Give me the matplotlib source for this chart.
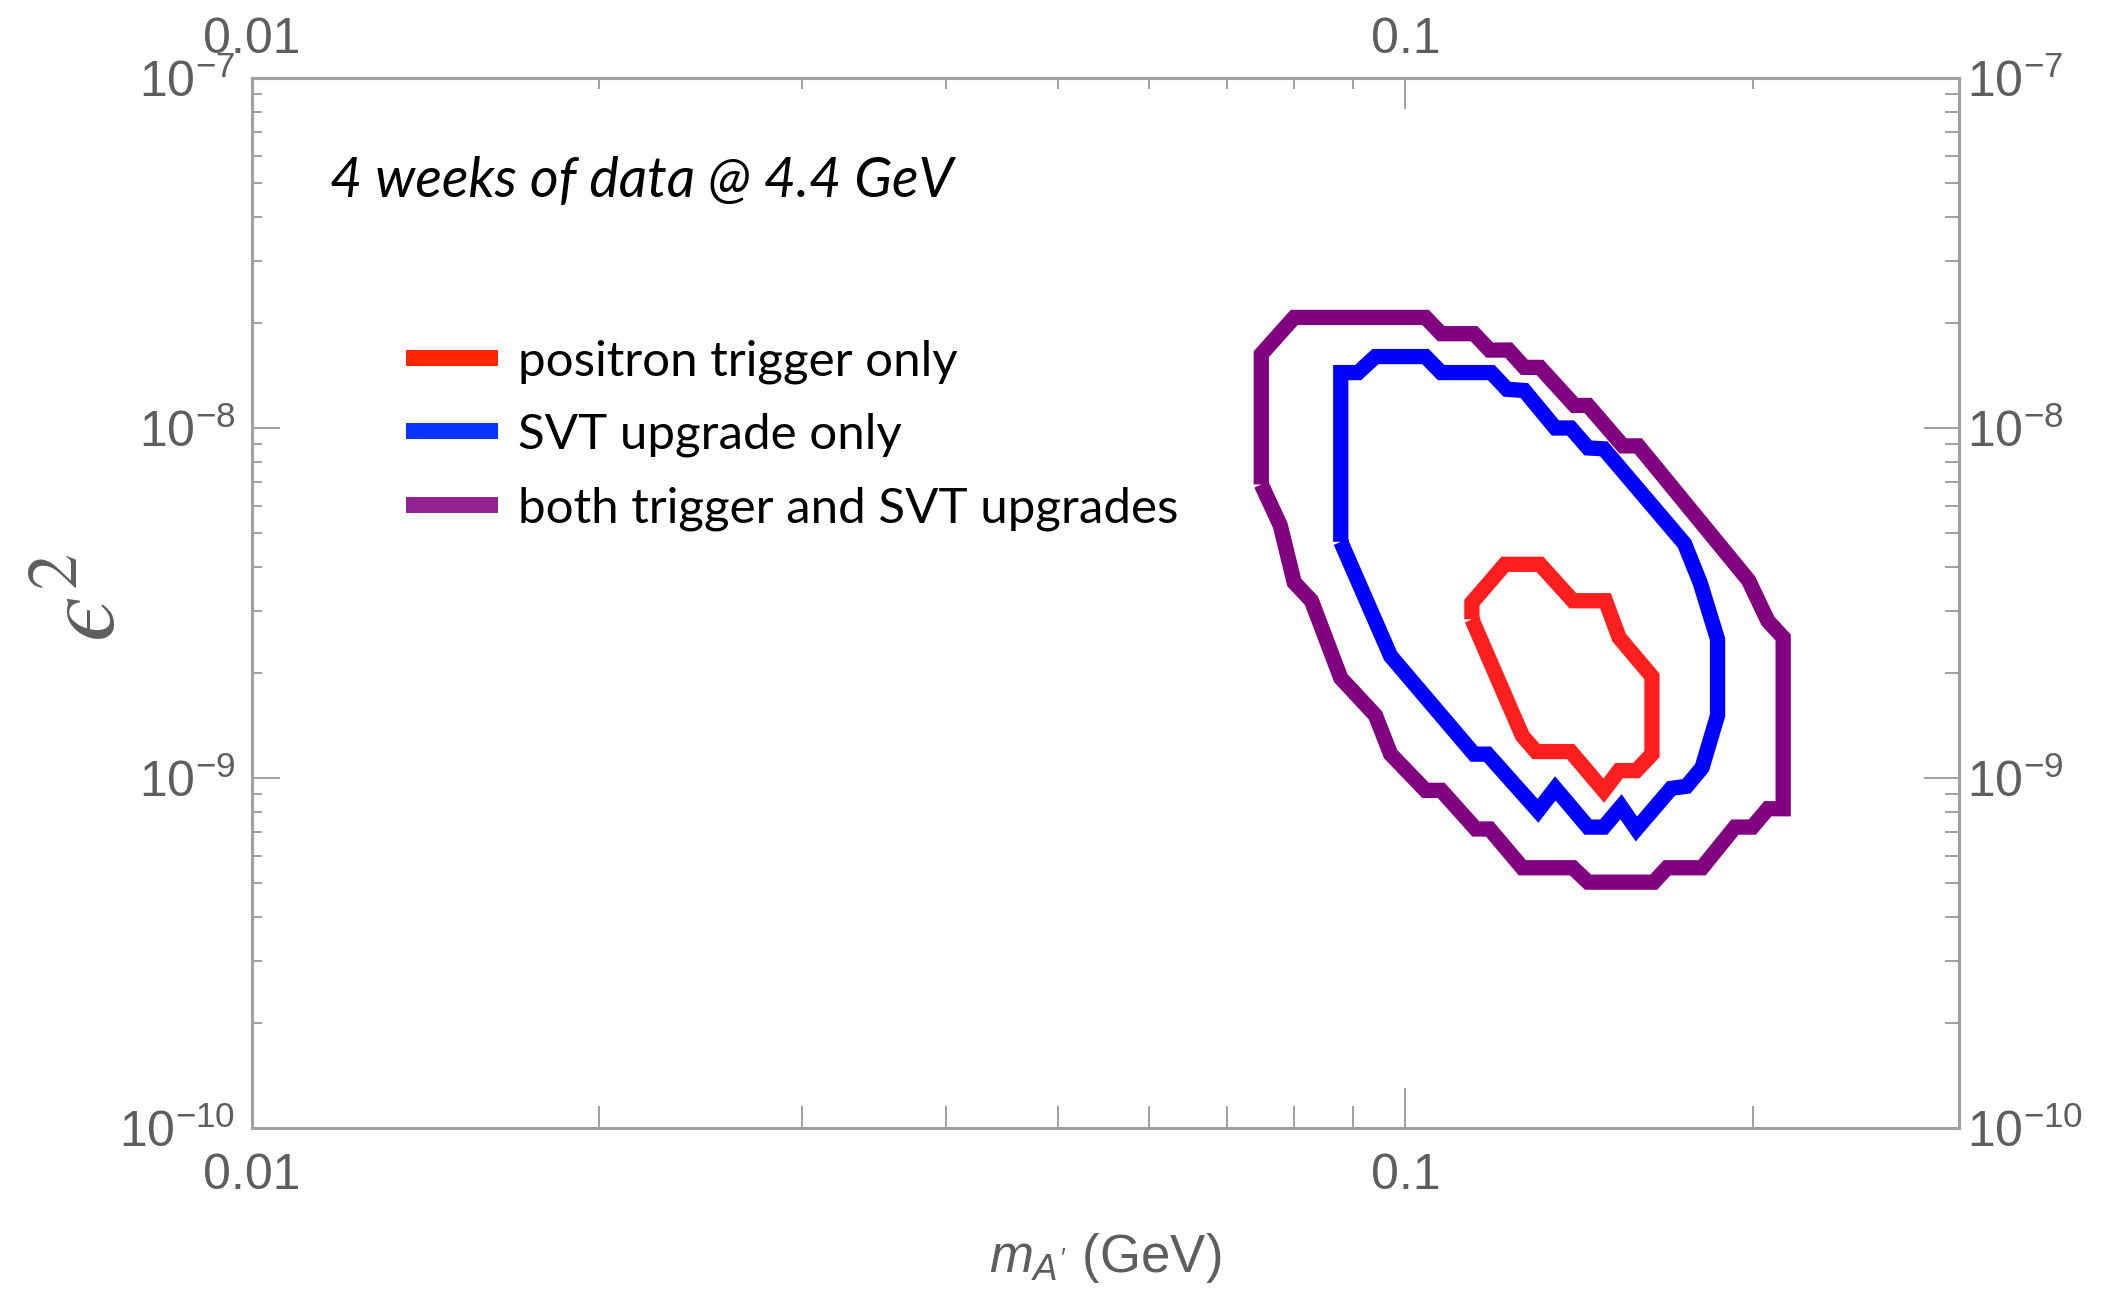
import numpy as np
import matplotlib
matplotlib.use("Agg")
from matplotlib import pyplot as plt
from matplotlib.lines import Line2D
from matplotlib.ticker import FixedLocator, FixedFormatter, LogFormatterMathtext, LogLocator, NullFormatter

# reach contours: A' mass (GeV) and epsilon^2
red_mass = [0.1142, 0.1142, 0.1220, 0.1308, 0.1397, 0.1491, 0.1532, 0.1636,
            0.1636, 0.1586, 0.1532, 0.1486, 0.1391, 0.1298, 0.1263]
red_eps2 = [2.84e-9, 3.17e-9, 4.08e-9, 4.08e-9, 3.21e-9, 3.21e-9, 2.52e-9, 1.95e-9,
            1.17e-9, 1.05e-9, 1.05e-9, 9.2e-10, 1.19e-9, 1.19e-9, 1.32e-9]

blue_mass = [0.0879, 0.0879, 0.0910, 0.0942, 0.1041, 0.1074, 0.1187, 0.1225,
             0.1268, 0.1349, 0.1391, 0.1440, 0.1486, 0.1746, 0.1801, 0.1865,
             0.1865, 0.1808, 0.1753, 0.1700, 0.1586, 0.1538, 0.1486, 0.1440,
             0.1349, 0.1303, 0.1178, 0.1147, 0.0971]
blue_eps2 = [4.73e-9, 1.44e-8, 1.44e-8, 1.60e-8, 1.60e-8, 1.44e-8, 1.44e-8, 1.29e-8,
             1.28e-8, 1.00e-8, 1.00e-8, 8.77e-9, 8.72e-9, 4.67e-9, 3.62e-9, 2.49e-9,
             1.51e-9, 1.07e-9, 9.47e-10, 9.34e-10, 7.15e-10, 8.28e-10, 7.24e-10, 7.24e-10,
             9.34e-10, 8.06e-10, 1.17e-9, 1.17e-9, 2.23e-9]

purple_mass = [0.0750, 0.0750, 0.0801, 0.1041, 0.1074, 0.1147, 0.1183, 0.1229,
               0.1268, 0.1308, 0.1402, 0.1440, 0.1544, 0.1592, 0.1984, 0.2062,
               0.2126, 0.2126, 0.2062, 0.1999, 0.1931, 0.1808, 0.1686, 0.1642,
               0.1440, 0.1397, 0.1263, 0.1183, 0.1151, 0.1074, 0.1041, 0.0971,
               0.0942, 0.0879, 0.0829, 0.0801, 0.0779]
purple_eps2 = [6.9e-9, 1.625e-8, 2.07e-8, 2.07e-8, 1.86e-8, 1.86e-8, 1.67e-8, 1.67e-8,
               1.49e-8, 1.49e-8, 1.16e-8, 1.16e-8, 8.89e-9, 8.89e-9, 3.67e-9, 2.81e-9,
               2.52e-9, 8.17e-10, 8.17e-10, 7.24e-10, 7.24e-10, 5.54e-10, 5.54e-10, 5.04e-10,
               5.04e-10, 5.54e-10, 5.54e-10, 7.15e-10, 7.15e-10, 9.22e-10, 9.22e-10, 1.17e-9,
               1.51e-9, 1.93e-9, 3.21e-9, 3.62e-9, 5.27e-9]

labels = ["positron trigger only", "SVT upgrade only", "both trigger and SVT upgrades"]
line_colors = ["#ff1f1f", "#0000ff", "#800080"]
legend_colors = ["#ff2600", "#0433ff", "#942192"]

x_major = [0.01, 0.1]
x_major_labels = ["0.01", "0.1"]
x_minor = [0.02, 0.03, 0.04, 0.05, 0.06, 0.07, 0.08, 0.09, 0.2]
y_major = [1e-10, 1e-9, 1e-8, 1e-7]

GRAY = "#a0a0a0"
LABEL_GRAY = "#5e5e5e"

plt.rcParams["mathtext.fontset"] = "custom"
plt.rcParams["mathtext.rm"] = "Liberation Sans"
plt.rcParams["mathtext.it"] = "Liberation Sans:italic"
plt.rcParams["font.family"] = "Liberation Sans"


def closed(a):
    return np.append(a, a[0])


def set_x_ticks(axis_obj):
    axis_obj.set_major_locator(FixedLocator(x_major))
    axis_obj.set_major_formatter(FixedFormatter(x_major_labels))
    axis_obj.set_minor_locator(FixedLocator(x_minor))
    axis_obj.set_minor_formatter(NullFormatter())


def set_y_ticks(axis_obj):
    axis_obj.set_major_locator(FixedLocator(y_major))
    axis_obj.set_major_formatter(LogFormatterMathtext())
    axis_obj.set_minor_locator(LogLocator(base=10, subs=np.arange(2, 10)))
    axis_obj.set_minor_formatter(NullFormatter())


def main():
    fig = plt.figure(figsize=(21.10, 12.89), dpi=100)
    ax = fig.add_axes([252 / 2110, 1 - 1128 / 1289, 1707 / 2110, 1050 / 1289])
    ax.set_xscale("log")
    ax.set_yscale("log")

    series = [(red_mass, red_eps2), (blue_mass, blue_eps2), (purple_mass, purple_eps2)]
    for (m, e), c in zip(series, line_colors):
        ax.plot(closed(m), closed(e), color=c, lw=11,
                solid_joinstyle="miter", solid_capstyle="butt", zorder=3)

    ax.set_xlim(0.01, 0.302)
    ax.set_ylim(1e-10, 1e-7)

    for sp in ax.spines.values():
        sp.set_color(GRAY)
        sp.set_linewidth(2.2)

    # bottom / left
    set_x_ticks(ax.xaxis)
    set_y_ticks(ax.yaxis)
    ax.tick_params(axis="x", which="major", direction="in", length=29, width=1.4,
                   color=GRAY, labelcolor=LABEL_GRAY, labelsize=36, pad=18)
    ax.tick_params(axis="x", which="minor", direction="in", length=16, width=1.4, color=GRAY)
    ax.tick_params(axis="y", which="major", direction="in", length=20, width=1.4,
                   color=GRAY, labelcolor=LABEL_GRAY, labelsize=36, pad=12)
    ax.tick_params(axis="y", which="minor", direction="in", length=7, width=1.4, color=GRAY)

    # top / right mirrors
    top = ax.secondary_xaxis("top")
    set_x_ticks(top.xaxis)
    top.tick_params(axis="x", which="major", direction="in", length=22, width=1.4,
                    color=GRAY, labelcolor=LABEL_GRAY, labelsize=36, pad=11)
    top.tick_params(axis="x", which="minor", direction="in", length=8, width=1.4, color=GRAY)
    top.spines["top"].set_color(GRAY)
    top.spines["top"].set_linewidth(2.2)

    right = ax.secondary_yaxis("right")
    set_y_ticks(right.yaxis)
    right.tick_params(axis="y", which="major", direction="in", length=25, width=1.4,
                      color=GRAY, labelcolor=LABEL_GRAY, labelsize=36, pad=6)
    right.tick_params(axis="y", which="minor", direction="in", length=10, width=1.4, color=GRAY)
    right.spines["right"].set_color(GRAY)
    right.spines["right"].set_linewidth(2.2)

    ax.set_xlabel(r"$m_{A'}$ (GeV)", fontsize=38, color=LABEL_GRAY, va="center")
    ax.xaxis.set_label_coords(0.5, -0.124)
    ax.set_ylabel("$\u03f5^{2}$", fontsize=74, color=LABEL_GRAY,
                  math_fontfamily="stix", va="center", ha="center")
    ax.yaxis.set_label_coords(-0.096, 0.505)

    ax.text(0.0457, 0.901, "4 weeks of data @ 4.4 GeV", transform=ax.transAxes,
            fontsize=40, family="Lato", style="italic", ha="left", va="center")

    handles = [Line2D([], [], color=c, lw=11.5, solid_capstyle="butt") for c in legend_colors]
    ax.legend(handles, labels, loc="center left", bbox_to_anchor=(0.0902, 0.66),
              frameon=False, prop={"family": "Lato", "size": 35.5},
              handlelength=1.87, handletextpad=0.41, labelspacing=0.59,
              borderpad=0, borderaxespad=0)

    fig.savefig("out.png", dpi=100, facecolor="white")


if __name__ == "__main__":
    main()
